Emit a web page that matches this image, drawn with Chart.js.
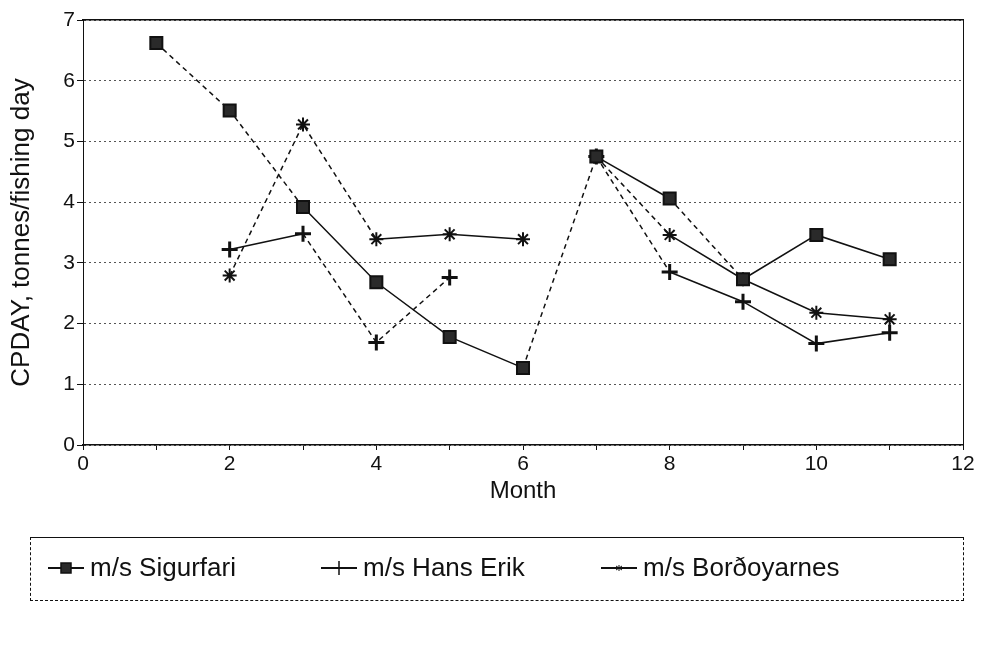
<!DOCTYPE html>
<html>
<head>
<meta charset="utf-8">
<script src="https://cdn.jsdelivr.net/npm/chart.js@4.4.1/dist/chart.umd.min.js"></script>
<style>
  html, body { margin: 0; padding: 0; background: #fff; }
  #wrap { position: relative; width: 983px; height: 649px; }
  #legend {
    position: absolute; left: 30px; top: 537px; width: 932px; height: 62px;
    border: 1px solid #111; border-left-style: dashed; border-bottom-style: dashed; border-right-style: dashed;
    font: 26px 'Liberation Sans', Arial, sans-serif; color: #111;
  }
  .item { position: absolute; top: 14px; display: flex; align-items: center; white-space: nowrap; }
  .item svg { margin-right: 6px; }
</style>
</head>
<body>
<div id="wrap">
  <canvas id="c" width="983" height="649"></canvas>
  <div id="legend"></div>
</div>
<script>
// months on the x axis
const months = [1, 2, 3, 4, 5, 6, 7, 8, 9, 10, 11];
// CPDAY, tonnes per fishing day
const sigurfari   = [6.62, 5.51, 3.92, 2.68, 1.78, 1.27, 4.75, 4.06, 2.73, 3.46, 3.06];
const hansErik    = [null, 3.22, 3.48, 1.69, 2.76, null, 4.75, 2.85, 2.36, 1.67, 1.85];
const bordoyarnes = [null, 2.79, 5.28, 3.39, 3.47, 3.39, 4.75, 3.46, 2.73, 2.18, 2.07];
const seriesNames = ['m/s Sigurfari', 'm/s Hans Erik', 'm/s Borðoyarnes'];
const bordGapAfter = 6;   // no line between month 6 and 7 for Borðoyarnes
// segments (by starting month) that print as broken lines in the original
const sigDashed  = [1, 2, 6, 8];
const hansDashed = [3, 4, 7];
const bordDashed = [2, 3, 7];
const xMin = 0, xMax = 12, xLabelStep = 2;
const yMin = 0, yMax = 7;

const FONT = "'Liberation Sans', Arial, sans-serif";
const INK = '#111';

const pts = arr => months.map((m, i) => ({ x: m, y: arr[i] }));
const dashIf = list => ctx => (list.includes(ctx.p0.parsed.x) ? [5, 4] : undefined);

const ds = [
  { label: seriesNames[0], data: pts(sigurfari), pointStyle: 'rect', pointRadius: 8.5,
    pointBackgroundColor: '#2a2a2a', pointBorderColor: INK, pointBorderWidth: 2,
    segment: { borderDash: dashIf(sigDashed) } },
  { label: seriesNames[1], data: pts(hansErik), pointStyle: 'cross', pointRadius: 8,
    pointBorderColor: INK, pointBorderWidth: 3,
    segment: { borderDash: dashIf(hansDashed) } },
  { label: seriesNames[2], data: pts(bordoyarnes), pointStyle: 'star', pointRadius: 7,
    pointBorderColor: INK, pointBorderWidth: 2,
    segment: {
      borderColor: ctx => (ctx.p0.parsed.x === bordGapAfter ? 'rgba(0,0,0,0)' : undefined),
      borderDash: dashIf(bordDashed)
    } }
].map(d => Object.assign({ borderColor: INK, borderWidth: 1.5, tension: 0, spanGaps: false, fill: false }, d));

new Chart(document.getElementById('c'), {
  type: 'line',
  data: { datasets: ds },
  options: {
    responsive: false, animation: false,
    layout: { padding: { left: 0, right: 20, top: 20, bottom: 139 } },
    plugins: { legend: { display: false }, tooltip: { enabled: false } },
    scales: {
      x: {
        type: 'linear', position: 'bottom', min: xMin, max: xMax,
        ticks: { stepSize: 1, autoSkip: false, maxRotation: 0, color: INK, padding: 2,
          font: { family: FONT, size: 21 },
          callback: v => (v % xLabelStep === 0 ? v : '') },
        grid: { drawOnChartArea: false, tickLength: 5, color: INK },
        border: { color: INK, width: 1.5 },
        title: { display: true, text: 'Month', color: INK, font: { family: FONT, size: 24 }, padding: { top: 4, bottom: 4 } },
        afterFit: s => { s.height = 65; }
      },
      xTop: {
        type: 'linear', position: 'top', min: xMin, max: xMax,
        ticks: { display: false }, grid: { drawOnChartArea: false, drawTicks: false },
        border: { color: INK, width: 1.5 },
        afterFit: s => { s.height = 0; }
      },
      y: {
        position: 'left', min: yMin, max: yMax,
        ticks: { stepSize: 1, color: INK, padding: 2, font: { family: FONT, size: 21 } },
        grid: { color: '#555', lineWidth: 1, tickLength: 6, tickColor: INK, tickBorderDash: [] },
        border: { color: INK, width: 1, dash: [2, 3] },
        title: { display: true, text: 'CPDAY, tonnes/fishing day', color: INK,
          font: { family: FONT, size: 26 }, padding: { top: 6, bottom: 0 } },
        afterFit: s => { s.width = 83; }
      },
      yRight: {
        position: 'right', min: yMin, max: yMax,
        ticks: { display: false }, grid: { drawOnChartArea: false, drawTicks: false },
        border: { color: INK, width: 1, dash: [8, 3, 2, 3] },
        afterFit: s => { s.width = 0; }
      }
    }
  }
});

// legend (box with three entries under the chart)
const legendX = [17, 290, 570];
const marker = [
  '<rect x="13" y="6" width="10" height="10" fill="#2a2a2a" stroke="#111" stroke-width="1.5"/>',
  '<path d="M18 4V18M11 11H25" stroke="#111" stroke-width="1.5"/>',
  '<path d="M18 8V14M15 9L21 13M15 13L21 9" stroke="#111" stroke-width="1"/>'
];
const lg = document.getElementById('legend');
seriesNames.forEach((name, i) => {
  const el = document.createElement('div');
  el.className = 'item';
  el.style.left = legendX[i] + 'px';
  el.innerHTML = '<svg width="36" height="22"><line x1="0" y1="11" x2="36" y2="11" stroke="#111" stroke-width="2"/>' +
    marker[i] + '</svg><span>' + name + '</span>';
  lg.appendChild(el);
});
</script>
</body>
</html>
